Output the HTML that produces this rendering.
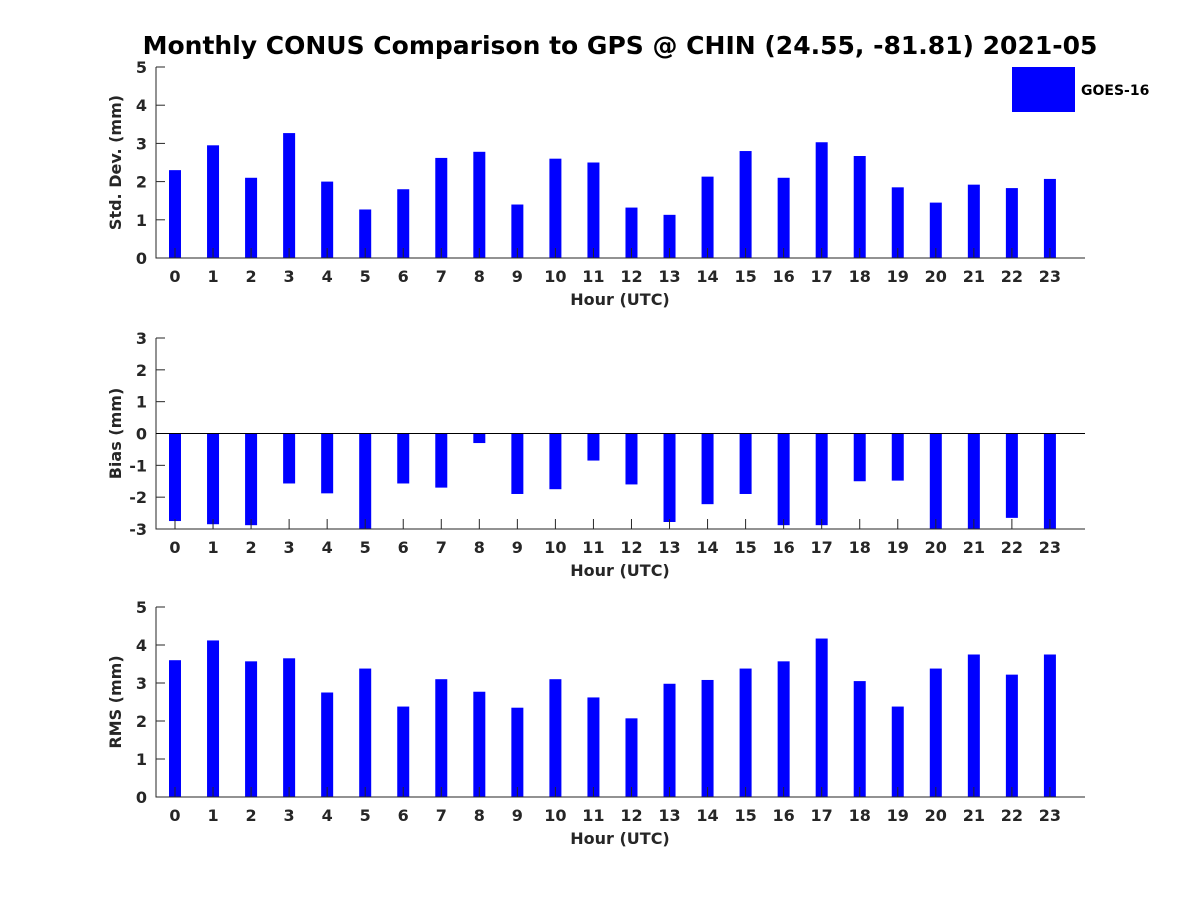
<!DOCTYPE html>
<html><head><meta charset="utf-8"><style>
body{margin:0;background:#fff;}
svg text{font-family:"DejaVu Sans","Liberation Sans",sans-serif;font-weight:bold;fill:#262626;}
</style></head><body>
<svg id="chart" width="1200" height="900" xmlns="http://www.w3.org/2000/svg">
<text x="620" y="54" text-anchor="middle" font-size="25" style="fill:#000">Monthly CONUS Comparison to GPS @ CHIN (24.55, -81.81) 2021-05</text>
<g>
<rect x="1012" y="67" width="63" height="45" fill="#0000ff"/>
<text x="1081" y="95" font-size="14" style="fill:#000">GOES-16</text>
</g>
</svg>
<script>
const hours=[0,1,2,3,4,5,6,7,8,9,10,11,12,13,14,15,16,17,18,19,20,21,22,23];
const stdValues=[2.3,2.95,2.1,3.27,2.0,1.27,1.8,2.62,2.78,1.4,2.6,2.5,1.32,1.13,2.13,2.8,2.1,3.03,2.67,1.85,1.45,1.92,1.83,2.07];
const biasValues=[-2.75,-2.85,-2.88,-1.57,-1.88,-3.2,-1.57,-1.7,-0.3,-1.9,-1.75,-0.85,-1.6,-2.78,-2.22,-1.9,-2.88,-2.88,-1.5,-1.48,-3.2,-3.2,-2.65,-3.2];
const rmsValues=[3.6,4.12,3.57,3.65,2.75,3.38,2.38,3.1,2.77,2.35,3.1,2.62,2.07,2.98,3.08,3.38,3.57,4.17,3.05,2.38,3.38,3.75,3.22,3.75];
const stdTicks=[0,1,2,3,4,5];
const biasTicks=[-3,-2,-1,0,1,2,3];
const rmsTicks=[0,1,2,3,4,5];
const svg=document.getElementById('chart');
const NS='http://www.w3.org/2000/svg';
function mk(tag,attrs){const e=document.createElementNS(NS,tag);for(const k in attrs)e.setAttribute(k,attrs[k]);svg.appendChild(e);return e;}
const xL=156,xR=1085;
function xs(h){return 175+h*38.04;}
function panel(key,values,ticks,yTop,yBot,ymin,ymax,ylabel){
  const ys=v=>yBot-(v-ymin)/(ymax-ymin)*(yBot-yTop);
  const base=Math.max(ymin,Math.min(ymax,0));
  values.forEach((v,i)=>{
    const vc=Math.max(ymin,Math.min(ymax,v));
    const y1=ys(Math.max(vc,base)),y2=ys(Math.min(vc,base));
    const r=mk('rect',{x:xs(hours[i])-6,y:y1,width:12,height:Math.max(0,y2-y1),fill:'#0000ff'});
    
    
  });
  hours.forEach(h=>{
    const t=mk('line',{x1:xs(h),x2:xs(h),y1:yBot,y2:yBot-10,stroke:'#262626','stroke-width':1});
    
    
    const l=mk('text',{x:xs(h),y:yBot+24,'text-anchor':'middle','font-size':16});
    l.textContent=h;
    
    
  });
  ticks.forEach(v=>{
    const t=mk('line',{x1:xL,x2:xL+9,y1:ys(v),y2:ys(v),stroke:'#262626','stroke-width':1});
    
    
    const l=mk('text',{x:xL-9,y:ys(v)+6,'text-anchor':'end','font-size':16});
    l.textContent=v;
    
    
  });
  const ax=mk('path',{d:`M${xL},${yTop}V${yBot}H${xR}`,fill:'none',stroke:'#262626','stroke-width':1});
  
  
  if(ymin<0){
    const z=mk('line',{x1:xL,x2:xR,y1:ys(0),y2:ys(0),stroke:'#000','stroke-width':1});
    
    
  }
  const xt=mk('text',{x:620,y:yBot+47,'text-anchor':'middle','font-size':16});
  xt.textContent='Hour (UTC)';
  
  
  const cy=(yTop+yBot)/2;
  const yt=mk('text',{x:121,y:cy,'text-anchor':'middle','font-size':16,transform:`rotate(-90 121 ${cy})`});
  yt.textContent=ylabel;
  
  
}
panel('std',stdValues,stdTicks,67,258,0,5,'Std. Dev. (mm)');
panel('bias',biasValues,biasTicks,338,529,-3,3,'Bias (mm)');
panel('rms',rmsValues,rmsTicks,607,797,0,5,'RMS (mm)');
</script>
</body></html>
